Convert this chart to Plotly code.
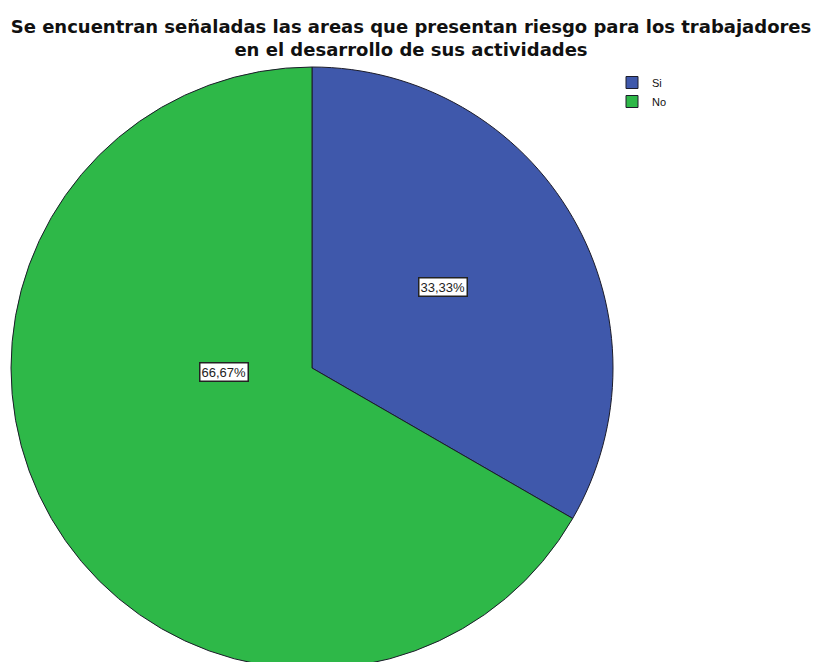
import plotly.graph_objects as go

# Data
categories = ["Si", "No"]
percentages = [33.33, 66.67]
slice_colors = ["#3F58AB", "#2EB848"]

title_text = ("Se encuentran señaladas las areas que presentan riesgo para los trabajadores"
              "<br>en el desarrollo de sus actividades")

W, H = 822, 669
TOP = 67

fig = go.Figure(go.Pie(
    labels=categories,
    values=percentages,
    sort=False,
    direction="clockwise",
    rotation=0,
    textinfo="none",
    hoverinfo="label+percent",
    marker=dict(colors=slice_colors, line=dict(color="#1c1c2a", width=1)),
    domain=dict(x=[11 / W, 613 / W], y=[0, 1]),
))

# Percentage labels in boxes (SPSS style)
label_pos = [(443, 287), (199, 372)]
for pct, (px, py) in zip(percentages, label_pos):
    fig.add_annotation(
        text=f"{pct:.2f}%".replace(".", ","),
        x=px / W, y=1 - (py - TOP) / (H - TOP),
        xref="paper", yref="paper",
        showarrow=False,
        font=dict(family="Liberation Sans, Arial, sans-serif", size=13, color="#222222"),
        bgcolor="white",
        bordercolor="#222222",
        borderwidth=1.5,
        borderpad=1,
    )

fig.update_layout(
    width=W,
    height=H,
    margin=dict(l=0, r=0, t=TOP, b=0),
    paper_bgcolor="white",
    plot_bgcolor="white",
    title=dict(
        text=title_text,
        x=0.5,
        xanchor="center",
        y=1 - 33 / H,
        yanchor="top",
        yref="container",
        font=dict(family="DejaVu Sans, sans-serif", size=18, color="#111111", weight="bold"),
    ),
    showlegend=True,
    legend=dict(
        x=612 / W,
        xanchor="left",
        y=1 - (68 - TOP) / (H - TOP),
        yanchor="top",
        font=dict(family="Liberation Sans, Arial, sans-serif", size=11, color="#111111"),
        bgcolor="rgba(0,0,0,0)",
        tracegroupgap=0,
    ),
)

fig.write_html(
    "out.html",
    config={"displayModeBar": False},
    post_script="document.body.style.margin='0';document.body.style.overflow='hidden';"
                "document.documentElement.style.overflow='hidden';",
)
